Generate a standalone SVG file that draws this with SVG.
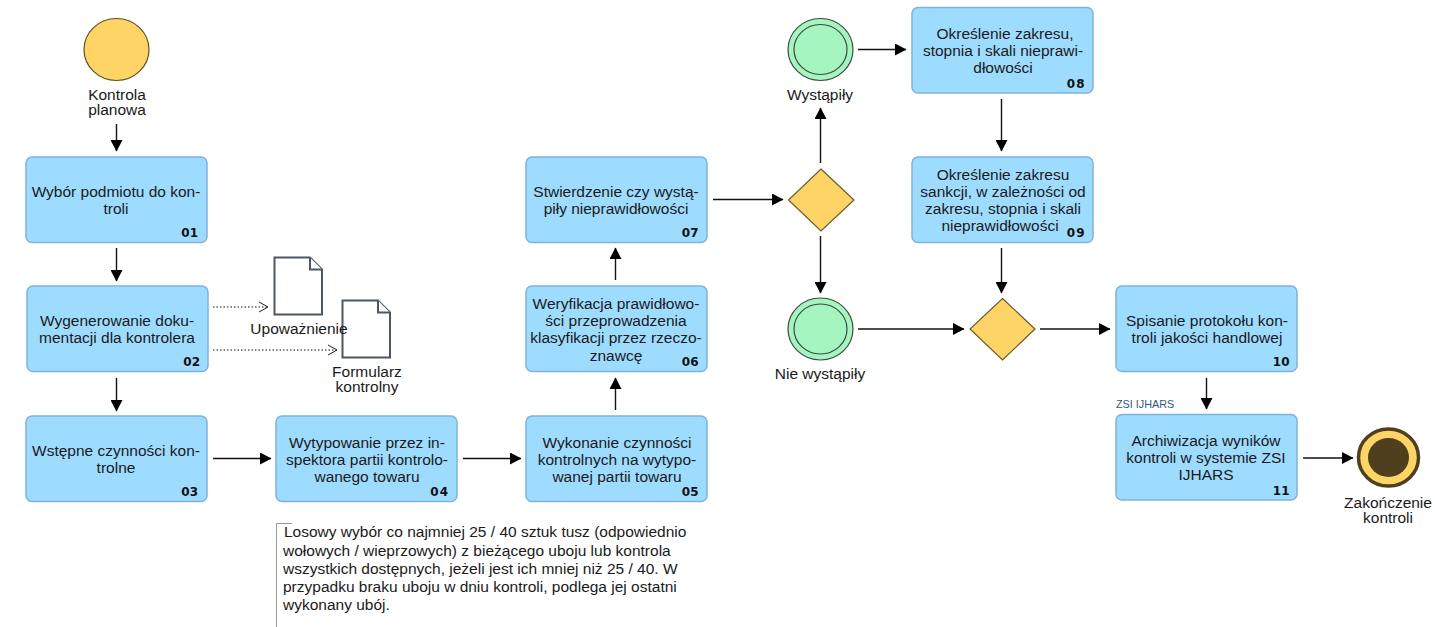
<svg xmlns="http://www.w3.org/2000/svg" width="1435" height="627" viewBox="0 0 1435 627">
<style>
text{font-family:"Liberation Sans",Arial,sans-serif;font-size:15.500px;fill:#1a1a1a;text-anchor:middle}
.task{fill:#9edcff;stroke:#7fb2dc;stroke-width:1.5}
.num{font-family:"DejaVu Sans",sans-serif;font-size:12px;font-weight:bold;text-anchor:end;letter-spacing:.3px;fill:#111}
.gw{fill:#ffd467;stroke:#6b5a2a;stroke-width:1.2}
.ev{fill:#a4f5c0;stroke:#3f4a42;stroke-width:1.2}
.doc{fill:#fff;stroke:#4c5664;stroke-width:2}
.flow{fill:none;stroke:#111;stroke-width:1.4;marker-end:url(#a)}
.dot{fill:none;stroke:#111;stroke-width:1;stroke-dasharray:1.5 2;marker-end:url(#o)}
.left{text-anchor:start}
</style>
<defs>
<marker id="a" markerUnits="userSpaceOnUse" markerWidth="12" markerHeight="12" refX="11" refY="6" orient="auto"><path d="M0 0L11.500 6L0 12z" fill="#000"/></marker>
<marker id="o" markerUnits="userSpaceOnUse" markerWidth="11" markerHeight="12" refX="9.500" refY="6" orient="auto"><path d="M0.500 1L9.500 6L0.500 11" fill="none" stroke="#222" stroke-width="1"/></marker>
</defs>
<g id="connectors">
<path class="flow" d="M116.500 124V151"/>
<path class="flow" d="M116.500 248V281"/>
<path class="flow" d="M116.500 378V411"/>
<path class="flow" d="M213 458.500H271"/>
<path class="flow" d="M463 458.500H521"/>
<path class="flow" d="M615.500 410V378"/>
<path class="flow" d="M615.500 280V248"/>
<path class="flow" d="M713 199.500H783"/>
<path class="flow" d="M820.500 163V108"/>
<path class="flow" d="M820.500 236V293"/>
<path class="flow" d="M858 49.500H906"/>
<path class="flow" d="M1001.500 99V151"/>
<path class="flow" d="M1001.500 248V293"/>
<path class="flow" d="M858 329H964"/>
<path class="flow" d="M1040 329H1110"/>
<path class="flow" d="M1206.500 378V409"/>
<path class="flow" d="M1303 458H1353"/>
<path class="dot" d="M213 307H268"/>
<path class="dot" d="M213 350H337"/>
</g>
<g id="start"><ellipse cx="116.500" cy="49.500" rx="32.500" ry="31" fill="#ffd467" stroke="#5f5024" stroke-width="1.200"/><text x="117" y="100">Kontrola<tspan x="117" dy="15">planowa</tspan></text></g>
<g id="t01"><rect class="task" x="26" y="157" width="181" height="85.500" rx="6"/><text x="116" y="197">Wybór podmiotu do kon-</text><text x="116" y="214">troli</text><text class="num" x="198.500" y="237">01</text></g>
<g id="t02"><rect class="task" x="27" y="286" width="181" height="85.500" rx="6"/><text x="117" y="326">Wygenerowanie doku-</text><text x="117" y="343">mentacji dla kontrolera</text><text class="num" x="200.500" y="366">02</text></g>
<g id="t03"><rect class="task" x="26" y="416" width="181" height="85.500" rx="6"/><text x="116" y="456">Wstępne czynności kon-</text><text x="116" y="473">trolne</text><text class="num" x="198.500" y="496">03</text></g>
<g id="t04"><rect class="task" x="276" y="416" width="181" height="85.500" rx="6"/><text x="367" y="448">Wytypowanie przez in-</text><text x="367" y="465">spektora partii kontrolo-</text><text x="367" y="482">wanego towaru</text><text class="num" x="449" y="496" style="letter-spacing:1px">04</text></g>
<g id="t05"><rect class="task" x="526" y="416" width="181" height="85.500" rx="6"/><text x="617" y="448">Wykonanie czynności</text><text x="617" y="465">kontrolnych na wytypo-</text><text x="617" y="482">wanej partii towaru</text><text class="num" x="699" y="496">05</text></g>
<g id="t06"><rect class="task" x="526" y="286" width="181" height="85.500" rx="6"/><text x="616" y="309">Weryfikacja prawidłowo-</text><text x="616" y="326">ści przeprowadzenia</text><text x="616" y="343">klasyfikacji przez rzeczo-</text><text x="616" y="361">znawcę</text><text class="num" x="699" y="366">06</text></g>
<g id="t07"><rect class="task" x="526" y="157" width="181" height="85.500" rx="6"/><text x="616" y="197">Stwierdzenie czy wystą-</text><text x="616" y="214">piły nieprawidłowości</text><text class="num" x="699" y="237">07</text></g>
<g id="g1"><path class="gw" d="M821 169L854 200L821 231L788.500 200z"/></g>
<g id="e1"><ellipse class="ev" cx="820.500" cy="49.500" rx="32.500" ry="31"/><ellipse class="ev" cx="820.500" cy="49.500" rx="26.500" ry="25"/><text x="820" y="100">Wystąpiły</text></g>
<g id="e2"><ellipse class="ev" cx="820.500" cy="329" rx="32.500" ry="31"/><ellipse class="ev" cx="820.500" cy="329" rx="26.500" ry="25"/><text x="820" y="379">Nie wystąpiły</text></g>
<g id="t08"><rect class="task" x="912" y="7.500" width="181" height="85.500" rx="6"/><text x="1005" y="39">Określenie zakresu,</text><text x="1003" y="56">stopnia i skali nieprawi-</text><text x="1003" y="73">dłowości</text><text class="num" x="1085.500" y="88" style="letter-spacing:1px">08</text></g>
<g id="t09"><rect class="task" x="912" y="157" width="181" height="85.500" rx="6"/><text x="1003" y="180">Określenie zakresu</text><text x="1003" y="197">sankcji, w zależności od</text><text x="1003" y="214">zakresu, stopnia i skali</text><text x="1000" y="231">nieprawidłowości</text><text class="num" x="1085.500" y="237" style="letter-spacing:1px">09</text></g>
<g id="g2"><path class="gw" d="M1002.500 298.500L1035 329L1002.500 360L970 329z"/></g>
<g id="t10"><rect class="task" x="1116" y="286" width="181" height="85.500" rx="6"/><text x="1207" y="326">Spisanie protokołu kon-</text><text x="1207" y="343">troli jakości handlowej</text><text class="num" x="1290" y="366">10</text></g>
<g id="t11"><rect class="task" x="1116" y="414.500" width="181" height="85.500" rx="6"/><text x="1206" y="446">Archiwizacja wyników</text><text x="1206" y="463">kontroli w systemie ZSI</text><text x="1206" y="480">IJHARS</text><text class="num" x="1290" y="495">11</text><text class="left" x="1116" y="408" style="font-size:10.800px;fill:#2f5a80">ZSI IJHARS</text></g>
<g id="end"><ellipse cx="1388.500" cy="457.500" rx="30" ry="28.500" fill="#ffd467" stroke="#4f3f1c" stroke-width="3.500"/><ellipse cx="1388.500" cy="457.500" rx="20.500" ry="19.500" fill="#4f3f1c"/><text x="1388" y="508">Zakończenie<tspan x="1388" dy="15">kontroli</tspan></text></g>
<g id="d2"><path class="doc" d="M342.500 300.500H378L390 312.500V357.500H342.500z"/><path class="doc" d="M378 300.500V312.500H390" stroke-width="1.500"/><text x="367" y="377">Formularz<tspan x="367" dy="15">kontrolny</tspan></text></g>
<g id="d1"><path class="doc" d="M274.500 257.500H310L322 269.500V314.500H274.500z"/><path class="doc" d="M310 257.500V269.500H322" stroke-width="1.500"/><text x="299" y="334">Upoważnienie</text></g>
<g id="note"><path d="M292 523.500H276.500V627" fill="none" stroke="#999" stroke-width="1"/><text class="left" x="284" y="537">Losowy wybór co najmniej 25 / 40 sztuk tusz (odpowiednio</text><text class="left" x="283" y="556">wołowych / wieprzowych) z bieżącego uboju lub kontrola</text><text class="left" x="283" y="574">wszystkich dostępnych, jeżeli jest ich mniej niż 25 / 40. W</text><text class="left" x="283" y="592">przypadku braku uboju w dniu kontroli, podlega jej ostatni</text><text class="left" x="283" y="610">wykonany ubój.</text></g>
</svg>
